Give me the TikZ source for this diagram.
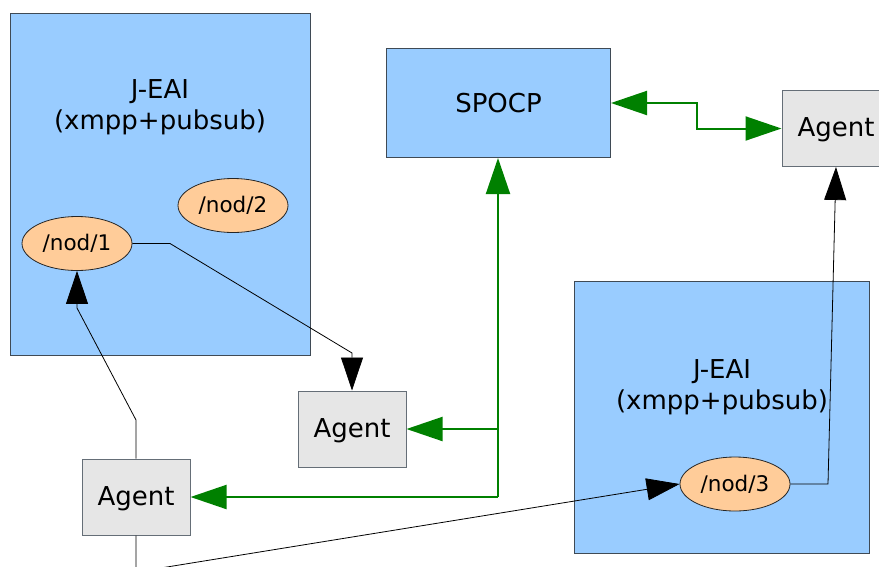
\documentclass[tikz,border=0pt]{standalone}
\usepackage{fontspec}
\setmainfont{DejaVu Sans}
\usetikzlibrary{shapes.geometric,arrows.meta}
\definecolor{boxblue}{HTML}{99CCFF}
\definecolor{agentgray}{HTML}{E6E6E6}
\definecolor{nodorange}{HTML}{FFCC99}
\definecolor{edgegray}{HTML}{3F4A55}
\definecolor{linkgreen}{HTML}{008000}
\tikzset{
  bigbox/.style={draw=edgegray, line width=1pt, fill=boxblue, inner sep=0pt},
  agentbox/.style={draw=edgegray!80, line width=1pt, fill=agentgray, inner sep=0pt,
    minimum width=108pt, minimum height=76pt, text depth=2.5pt, font=\fontsize{26}{30}\selectfont},
  nodell/.style={ellipse, draw=black!85, line width=0.8pt, fill=nodorange, inner sep=0pt,
    minimum width=110pt, minimum height=54pt, font=\fontsize{21.5}{25}\selectfont},
  bigtext/.style={align=center, font=\fontsize{26}{31}\selectfont, inner sep=0pt},
  blackarrow/.style={draw=black, line width=0.8pt, -{Triangle[length=33pt,width=22pt]}},
  greenline/.style={draw=linkgreen, line width=2pt},
  greenarrow/.style={greenline, -{Triangle[length=36pt,width=24pt]}},
  greenboth/.style={greenline, {Triangle[length=36pt,width=24pt]}-{Triangle[length=36pt,width=24pt]}}
}
\begin{document}
\begin{tikzpicture}[x=1pt,y=-1pt]
\useasboundingbox (0,0) rectangle (879,566);
% boxes
\node[bigbox, minimum width=300pt, minimum height=342pt] (jeai1) at (160,184) {};
\node[bigtext] (jeai1txt) at (160,107.5) {J-EAI\\(xmpp+pubsub)};
\node[bigbox, minimum width=295pt, minimum height=272pt] (jeai2) at (721.5,417) {};
\node[bigtext] (jeai2txt) at (722,387.5) {J-EAI\\(xmpp+pubsub)};
\node[bigbox, minimum width=224pt, minimum height=109pt, font=\fontsize{26}{30}\selectfont] (spocp) at (498.5,103) {SPOCP};
% agents
\node[agentbox] (agentL) at (136,497) {Agent};
\node[agentbox] (agentM) at (352,429) {Agent};
\node[agentbox] (agentR) at (836,128.5) {Agent};
% pubsub nodes
\node[nodell] (nod1) at (77,243.5) {/nod/1};
\node[nodell] (nod2) at (233,205.5) {/nod/2};
\node[nodell] (nod3) at (735,484) {/nod/3};
% coordinates
\coordinate (c1a) at (170,243.5);
\coordinate (c1b) at (352,353);
\coordinate (c2a) at (136,420);
\coordinate (c2b) at (77,308);
\coordinate (c3a) at (136,572);
\coordinate (c4a) at (828,484);
\coordinate (g1) at (498,429);
\coordinate (g2) at (498,497);
\coordinate (g3a) at (697,103);
\coordinate (g3b) at (697,128.5);
% black connectors
\draw[blackarrow] (nod1.east) -- (c1a) -- (c1b) -- (agentM.north);
\draw[blackarrow] (agentL.north) -- (c2a) -- (c2b) -- (nod1.south);
\draw[blackarrow] (agentL.south) -- (c3a) -- (nod3.west);
\draw[blackarrow] (nod3.east) -- (c4a) -- (agentR.south);
% green connectors
\draw[greenarrow] (g2) -- (spocp.south -| g2);
\draw[greenarrow] (g1) -- (agentM.east);
\draw[greenarrow] (g2) -- (agentL.east |- g2);
\draw[greenboth] (spocp.east |- g3a) -- (g3a) -- (g3b) -- (agentR.west);
\end{tikzpicture}
\end{document}
